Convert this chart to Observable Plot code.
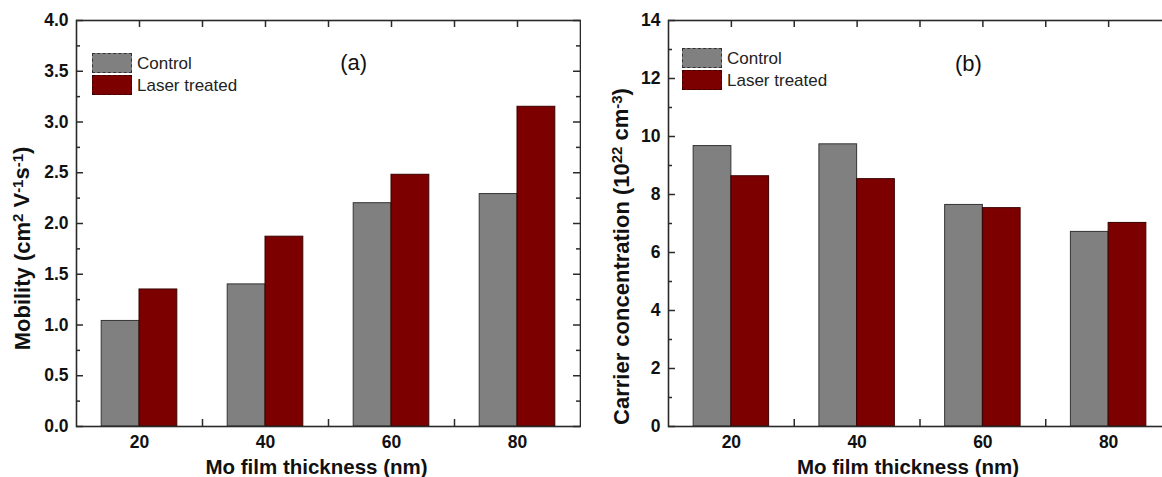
<!DOCTYPE html>
<html><head><meta charset="utf-8">
<script src="https://cdn.jsdelivr.net/npm/d3@7"></script>
<script src="https://cdn.jsdelivr.net/npm/@observablehq/plot@0.6"></script>
<style>
body{margin:0;background:#fff;overflow:hidden;font-family:"Liberation Sans",Arial,sans-serif}
#wrap{position:relative;width:1162px;height:477px;overflow:hidden;background:#fff}
.panel{position:absolute;top:0;height:477px;overflow:hidden}
.panel svg{max-width:none !important}
.legend{position:absolute;font-size:17px;color:#222;line-height:1}
.item{display:flex;align-items:center;height:22px}
.sw{width:40px;height:20px;box-sizing:border-box;margin-right:5px;border:1px dashed #333}
</style></head><body><div id="wrap"></div>
<script>
// ---- data ----
const thickness = [20, 40, 60, 80];
const seriesNames = ["Control", "Laser treated"];
const seriesColors = ["#808080", "#7c0000"];
const mobilityControl = [1.04, 1.40, 2.20, 2.29];
const mobilityLaser = [1.35, 1.87, 2.48, 3.15];
const carrierControl = [9.67, 9.73, 7.64, 6.71];
const carrierLaser = [8.63, 8.53, 7.53, 7.02];
const xMajorTicks = [20, 40, 60, 80];
const xMinorTicks = [30, 50, 70];
const mobilityTicks = [0, 0.5, 1.0, 1.5, 2.0, 2.5, 3.0, 3.5, 4.0];
const mobilityMinorTicks = [0.25, 0.75, 1.25, 1.75, 2.25, 2.75, 3.25, 3.75];
const carrierTicks = [0, 2, 4, 6, 8, 10, 12, 14];
const carrierMinorTicks = [1, 3, 5, 7, 9, 11, 13];
const xTitle = "Mo film thickness (nm)";
const mobilityTitle = [["Mobility (cm", 0], ["2", 1], [" V", 0], ["-1", 1], ["s", 0], ["-1", 1], [")", 0]];
const carrierTitle = [["Carrier concentration (10", 0], ["22", 1], [" cm", 0], ["-3", 1], [")", 0]];

const barHalf = 6; // bar width in x units

function panel(opts) {
  const {left, width, ml, mr, yDomain, yTicks, yMinor, yFmt, control, laser, title, tag, tagX, tagY, titleDx, titleDy, titleSize, legendPos} = opts;
  const H = 477, mt = 20, mb = 51;
  const pw = width - ml - mr, ph = H - mt - mb;
  const rows = [];
  thickness.forEach((t, i) => {
    rows.push({t, s: seriesNames[0], v: control[i], x1: t - barHalf, x2: t});
    rows.push({t, s: seriesNames[1], v: laser[i], x1: t, x2: t + barHalf});
  });
  const ink = "#2a2a2a";
  const plot = Plot.plot({
    width, height: H, marginLeft: ml, marginRight: mr, marginTop: mt, marginBottom: mb,
    style: {fontFamily: '"Liberation Sans", Arial, sans-serif', fontSize: "17px", color: "#111", background: "#fff", maxWidth: "none"},
    x: {type: "linear", domain: [10, 90]},
    y: {domain: yDomain},
    color: {domain: seriesNames, range: seriesColors},
    marks: [
      // inward ticks
      Plot.tickX(xMajorTicks.concat(xMinorTicks), {x: d => d, insetTop: ph - 7, stroke: ink, strokeWidth: 1.5}),
      Plot.tickX(xMajorTicks.concat(xMinorTicks), {x: d => d, insetBottom: ph - 7, stroke: ink, strokeWidth: 1.5}),
      Plot.tickY(yTicks, {y: d => d, insetRight: pw - 7, stroke: ink, strokeWidth: 1.5}),
      Plot.tickY(yMinor, {y: d => d, insetRight: pw - 4, stroke: ink, strokeWidth: 1.5}),
      Plot.tickY(yTicks, {y: d => d, insetLeft: pw - 7, stroke: ink, strokeWidth: 1.5}),
      Plot.tickY(yMinor, {y: d => d, insetLeft: pw - 4, stroke: ink, strokeWidth: 1.5}),
      Plot.rectY(rows, {x1: "x1", x2: "x2", y: "v", fill: "s",
        stroke: d => d.s === seriesNames[0] ? "#333" : "#3a0000",
        strokeWidth: 1, strokeDasharray: d => d.s === seriesNames[0] ? "3,2" : "2,1"}),
      Plot.frame({stroke: ink, strokeWidth: 1.6}),
      Plot.axisY({ticks: yTicks, tickSize: 0, tickPadding: 8, tickFormat: yFmt, fontWeight: "bold", fontSize: 17.5, label: null}),
      Plot.axisX({ticks: xMajorTicks, tickSize: 0, tickPadding: 9, fontWeight: "bold", fontSize: 17.5, label: null}),
      Plot.text([xTitle], {text: d => d, frameAnchor: "bottom", dy: 47, dx: -12, fontSize: 20.5, fontWeight: "bold", fill: "#111"}),
      Plot.text(["TITLE"], {text: d => d, frameAnchor: "left", textAnchor: "middle", rotate: -90, dx: titleDx, dy: titleDy, fontSize: titleSize, fontWeight: "bold", fill: "#111"}),
      Plot.text([tag], {x: tagX, y: tagY, text: d => d, fontSize: 22, fill: "#111"})
    ]
  });
  // superscripts in the rotated title
  d3.select(plot).selectAll("text").filter(function () { return this.textContent === "TITLE"; }).each(function () {
    const el = d3.select(this);
    el.text("");
    let prevSup = false;
    title.forEach(([s, sup]) => {
      const ts = el.append("tspan").text(s);
      if (sup && !prevSup) ts.attr("dy", "-0.45em").attr("font-size", "0.68em");
      else if (sup) ts.attr("font-size", "0.68em");
      else if (prevSup) ts.attr("dy", "0.3em");
      prevSup = !!sup;
    });
  });
  const div = document.createElement("div");
  div.className = "panel";
  div.style.left = left + "px";
  div.style.width = Math.min(1162 - left, width) + "px";
  div.appendChild(plot);
  // legend
  const lg = document.createElement("div");
  lg.className = "legend";
  lg.style.left = legendPos[0] + "px";
  lg.style.top = legendPos[1] + "px";
  seriesNames.forEach((n, i) => {
    const it = document.createElement("div");
    it.className = "item";
    const sw = document.createElement("div");
    sw.className = "sw";
    sw.style.background = seriesColors[i];
    sw.style.borderColor = i === 0 ? "#333" : "#3a0000";
    const lab = document.createElement("span");
    lab.textContent = n;
    it.appendChild(sw); it.appendChild(lab);
    lg.appendChild(it);
  });
  div.appendChild(lg);
  document.getElementById("wrap").appendChild(div);
}

panel({left: 0, width: 581, ml: 76, mr: 1, yDomain: [0, 4], yTicks: mobilityTicks, yMinor: mobilityMinorTicks,
  yFmt: d3.format(".1f"), control: mobilityControl, laser: mobilityLaser, title: mobilityTitle,
  tag: "(a)", tagX: 54, tagY: 3.58, titleDx: -54, titleDy: 25, titleSize: 22, legendPos: [92, 52]});
panel({left: 581, width: 590, ml: 87, mr: 0, yDomain: [0, 14], yTicks: carrierTicks, yMinor: carrierMinorTicks,
  yFmt: d3.format("d"), control: carrierControl, laser: carrierLaser, title: carrierTitle,
  tag: "(b)", tagX: 57.7, tagY: 12.5, titleDx: -47, titleDy: 33, titleSize: 22, legendPos: [101, 47]});
</script></body></html>
